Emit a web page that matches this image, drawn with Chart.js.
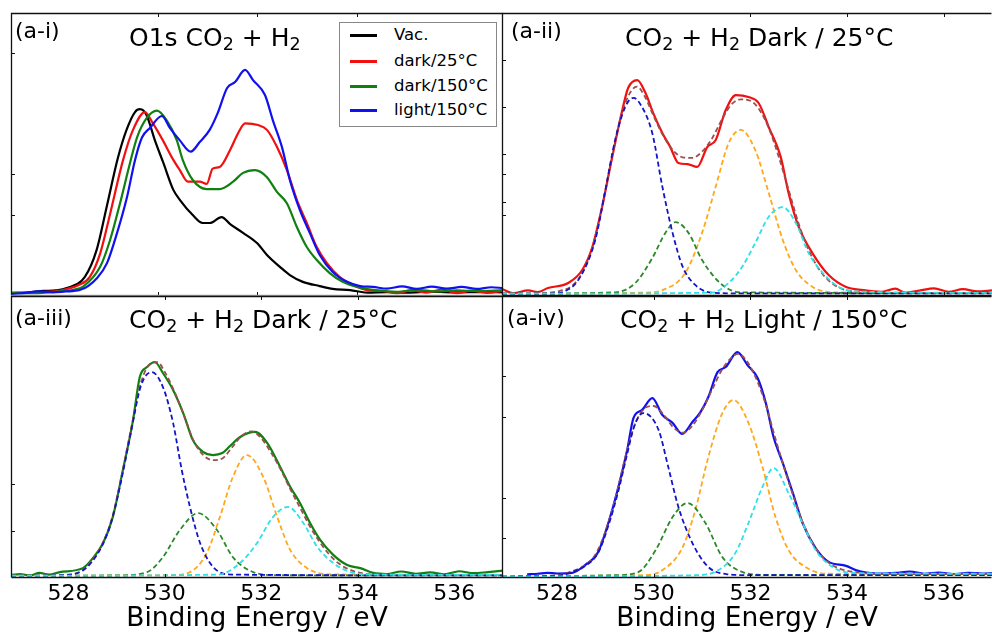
<!DOCTYPE html>
<html><head><meta charset="utf-8">
<script src="https://cdn.jsdelivr.net/npm/chart.js@4"></script>
<style>
html,body{margin:0;padding:0;background:#fff;}
#wrap{position:relative;width:992px;height:635px;overflow:hidden;font-family:'DejaVu Sans',sans-serif;}
canvas{position:absolute;left:0;top:0;}
.lbl{position:absolute;white-space:nowrap;color:#000;line-height:1;}
.lbl sub{font-size:70%;vertical-align:-0.22em;line-height:0;}
.title{font-size:25px;}
.plab{font-size:22px;}
#legend{position:absolute;left:339px;top:22px;width:156px;height:103px;border:1px solid #888;background:#fff;}
.lrow{position:absolute;left:0;width:156px;height:1px;}
.lline{position:absolute;left:10px;width:27px;height:3px;top:-1px;}
.ltxt{position:absolute;left:54px;top:-8px;font-size:16.5px;line-height:1;white-space:nowrap;}
</style></head><body>
<div id="wrap">
<canvas id="cTL" width="992" height="635"></canvas>
<canvas id="cTR" width="992" height="635"></canvas>
<canvas id="cBL" width="992" height="635"></canvas>
<canvas id="cBR" width="992" height="635"></canvas>

<div class="lbl plab" style="left:15px;top:20px">(a-i)</div>
<div class="lbl title" style="left:129px;top:25px">O1s CO<sub>2</sub> + H<sub>2</sub></div>
<div class="lbl plab" style="left:511px;top:20px">(a-ii)</div>
<div class="lbl title" style="left:625px;top:25px">CO<sub>2</sub> + H<sub>2</sub> Dark / 25°C</div>
<div class="lbl plab" style="left:15px;top:307px">(a-iii)</div>
<div class="lbl title" style="left:129px;top:307px">CO<sub>2</sub> + H<sub>2</sub> Dark / 25°C</div>
<div class="lbl plab" style="left:507px;top:307px">(a-iv)</div>
<div class="lbl title" style="left:620px;top:307px">CO<sub>2</sub> + H<sub>2</sub> Light / 150°C</div>

<div id="legend"></div>
</div>
<script>
// ---------- tick labels ----------
const bottomTicks = [528, 530, 532, 534, 536];
const tlInnerTicks = [530, 532, 534];
const trInnerTicks = [532, 534, 536];
const blInnerTicks = [530, 532, 534];
const brInnerTicks = [530, 532, 534];
const tlYTicks = [85.9, 43.1, 28.6];
const trYTicks = [83.4, 66.8, 50.2, 43.1, 33.2, 28.6];
const blYTicks = [33.3, 16.7];
const brYTicks = [71.6, 57.1, 28.4, 14.2];
const legendLabels = ['Vac.', 'dark/25°C', 'dark/150°C', 'light/150°C'];

// ---------- (a-i) O1s overview ----------
const tlVacE = [527.05,527.4,527.7,527.95,528.17,528.53,528.77,528.97,529.20,529.37,529.54,529.64,529.77,529.94,530.11,530.31,530.44,530.70,530.90,531.04,531.28,531.45,531.71,531.99,532.19,532.45,532.65,532.91,533.25,533.51,533.86,534.20,534.6,535.0,535.5,536.0,536.5,536.93];
const tlVacI = [1.0,1.3,1.8,2.0,2.8,6.7,16.3,31.4,49,58.7,65,66,64,55,47,37.5,34,28.6,25.8,25.8,27.9,25.4,22.3,18.7,14.5,10.3,7.4,5,3.5,2.5,2.1,1.2,1.4,1.2,1.5,1.3,1.4,1.3];
const tlDark25E = [527.05,527.5,528.0,528.2,528.4,528.63,528.84,529.04,529.30,529.50,529.74,529.90,530.10,530.28,530.44,530.60,530.84,530.98,531.10,531.24,531.45,531.61,531.75,532.01,532.19,532.39,532.59,532.79,532.99,533.19,533.39,533.65,533.92,534.20,534.5,534.8,535.1,535.4,535.7,536.0,536.3,536.6,536.93];
const tlDark25I = [1.0,1.3,1.8,2.6,3.8,6.7,15,29,48,58.7,65,61,55,49,44.5,40.4,40.4,39.6,45,45.6,51.6,57.5,61,60.4,58.7,52.7,44.5,34,25.8,17.3,11.7,6.7,3.9,2.1,1.8,1.0,2.1,1.2,2.3,1.0,1.9,1.1,1.8];
const tlDark150E = [527.05,527.5,528.0,528.3,528.49,528.84,529.04,529.24,529.44,529.58,529.78,529.98,530.18,530.38,530.50,530.70,530.98,531.24,531.51,531.71,531.95,532.19,532.39,532.59,532.79,532.99,533.19,533.45,533.71,534.0,534.4,534.8,535.2,535.6,536.0,536.4,536.93];
const tlDark150I = [1.2,1.0,1.6,2.2,3.2,10.3,19.8,32.8,47,56,63,65.5,62,55,48,41,37.8,37.8,40.4,43.5,44.5,42,36.8,32.8,24.4,17.3,12.7,8.1,5,3.2,2.0,1.5,2.2,1.6,2.0,1.7,2.1];
const tlLightE = [527.05,527.3,527.6,527.9,528.15,528.43,528.78,528.98,529.18,529.38,529.54,529.68,529.84,530.08,530.24,530.44,530.66,530.84,531.04,531.20,531.39,531.55,531.75,531.91,532.15,532.31,532.49,532.65,532.85,533.05,533.25,533.51,533.80,534.06,534.32,534.6,534.9,535.2,535.5,535.8,536.1,536.4,536.7,536.93];
const tlLightI = [0.7,1.0,1.6,1.3,1.6,2.1,6.4,11.7,22.3,35,48,56,59.4,63.6,59.4,55,51,54.4,58.7,64.6,73.5,75.6,79.9,76.3,71,62,52.7,41,30.4,22.3,14.5,8.5,5,3.5,3.2,2.6,3.4,2.5,3.3,2.6,3.2,2.5,3.1,2.8];

// ---------- (a-ii) dark / 25°C fit ----------
const trMeasE = [526.86,527.1,527.4,527.6,527.81,528.23,528.52,528.73,528.93,529.14,529.35,529.47,529.66,529.83,529.99,530.18,530.34,530.51,530.70,530.90,531.11,531.28,531.49,531.70,531.96,532.17,532.38,532.63,532.79,533.0,533.29,533.62,533.98,534.33,534.7,535.0,535.2,535.5,535.8,536.1,536.4,536.7,537.0];
const trMeasI = [2.5,1.0,2.0,1.4,2.8,4.6,9.2,17.3,31.4,49,65.7,73.5,76.3,71.7,64.6,57.5,52.7,47,46.6,45.6,52.7,55,65.7,71,70.3,68.2,59.7,49,36.4,24.4,15,7.4,3.2,2.1,1.5,2.6,1.2,1.9,2.7,1.5,2.4,1.6,2.0];
const trFitE = [526.86,527.5,528.0,528.3,528.5,528.7,528.9,529.1,529.3,529.5,529.65,529.8,530.0,530.2,530.4,530.6,530.8,531.0,531.2,531.4,531.6,531.8,532.0,532.2,532.4,532.6,532.8,533.0,533.2,533.4,533.6,533.8,534.0,534.5,537.0];
const trFitI = [0.8,0.9,1.6,3.5,7.5,15.5,29,46,62,71.5,74,71,63.5,56.5,51.5,49,48.8,51,55.5,62,67.5,69.5,69,65.5,58.5,48.5,37,25.5,16.5,10,5.8,3.3,2.0,1.2,1.0];
const trC1E = [526.86,527.9,528.15,528.44,528.79,529.0,529.2,529.41,529.58,529.75,529.97,530.18,530.39,530.6,530.86,531.2,532.0,537.0];
const trC1I = [0.8,0.9,1.6,5.7,19.8,37.5,55,66.8,70,67,57.5,38.5,22.3,10.3,3.9,1.2,0.9,0.9];
const trC2E = [526.86,529.2,529.62,529.97,530.24,530.45,530.72,531.0,531.42,531.8,537.0];
const trC2I = [0.8,1.3,4.6,13.4,22.3,26.1,22.3,12.7,3.9,1.3,1.0];
const trC3E = [526.86,529.8,530.18,530.65,531.0,531.28,531.55,531.8,532.1,532.38,532.67,532.94,533.29,533.7,537.0];
const trC3I = [0.8,1.2,2.1,8.1,22.3,38.5,54,58.7,51.6,36.4,19.8,9.2,3.2,1.3,1.0];
const trC4E = [526.86,531.2,531.55,531.83,532.1,532.38,532.67,532.94,533.21,533.5,533.83,534.2,537.0];
const trC4I = [0.8,1.2,4.6,10.3,18.7,28,31.4,25.8,15,8.1,3.2,1.6,1.1];

// ---------- (a-iii) fit ----------
const blMeasE = [526.81,527.0,527.2,527.4,527.6,527.82,528.30,528.51,528.72,528.92,529.13,529.34,529.48,529.63,529.79,529.96,530.17,530.38,530.58,530.79,531.0,531.19,531.35,531.56,531.87,532.12,532.39,532.60,532.80,533.01,533.22,533.49,533.78,534.05,534.32,534.6,534.9,535.2,535.5,535.8,536.1,536.4,536.7,537.01];
const blMeasI = [1.1,1.4,0.9,1.8,1.2,2.1,3.5,7.1,12.4,21.6,38.3,56,71.3,74.8,76.6,72.7,66.7,58.5,48.9,44.7,43.6,44.3,46.8,50,51.8,47.9,39.4,32.3,26.6,19.5,13.5,8.2,4.6,3.5,1.8,1.4,2.3,1.5,2.0,1.3,2.4,1.7,2.1,2.6];
const blFitE = [526.81,527.5,528.0,528.3,528.5,528.7,528.9,529.1,529.3,529.5,529.7,529.85,530.0,530.2,530.4,530.6,530.8,531.0,531.2,531.4,531.6,531.8,532.0,532.2,532.4,532.6,532.8,533.0,533.2,533.4,533.6,533.8,534.0,534.4,537.01];
const blFitI = [0.8,0.8,1.2,2.8,6.5,12,21,36,53,69,76,76.5,73,66,57.5,48.5,43.5,41.8,42.5,46.5,50.5,52,49.5,44.5,38.5,31.5,25,18.5,13,8.5,5.2,3.2,2.0,1.2,1.0];
const blC1E = [526.81,528.0,528.3,528.5,528.7,528.9,529.1,529.3,529.5,529.73,529.96,530.17,530.35,530.52,530.73,531.0,531.4,537.01];
const blC1I = [0.8,1.1,2.7,6,11.5,20.5,35,52,68,73,67.7,55,38.3,25.2,12.4,3.9,1.2,0.9];
const blC2E = [526.81,529.0,529.63,529.96,530.31,530.69,531.08,531.41,531.83,532.3,537.01];
const blC2I = [0.8,0.9,2.1,7.4,17,23,17,7.4,2.1,1.0,0.9];
const blC3E = [526.81,530.1,530.52,530.87,531.14,531.41,531.70,532.04,532.33,532.60,532.95,533.4,537.01];
const blC3I = [0.8,1.0,2.1,8.9,21.6,35.8,43.6,35.8,21.6,9.9,3.5,1.3,1.0];
const blC4E = [526.81,531.1,531.56,531.91,532.24,532.55,532.87,533.16,533.49,533.85,534.3,537.01];
const blC4I = [0.8,1.2,5.3,12.4,21.6,25.2,19.5,11,5.3,2.1,1.2,1.1];

// ---------- (a-iv) light / 150°C fit ----------
const brMeasE = [527.38,527.6,527.8,528.0,528.31,528.58,528.85,529.06,529.27,529.45,529.58,529.76,529.97,530.18,530.39,530.59,530.80,530.97,531.13,531.32,531.49,531.73,531.94,532.15,532.32,532.48,532.67,532.88,533.08,533.35,533.62,533.98,534.18,534.4,534.7,535.0,535.3,535.6,535.9,536.2,536.5,536.8,537.0];
const brMeasI = [1.3,1.5,1.8,1.6,1.8,4.6,9.2,19.5,32.3,45.4,56.7,59.6,63.8,57.8,55,51.1,55.3,58.9,64.2,73,74.8,80.1,75.5,70.9,62,50,40.8,30.1,19.5,10.6,5.7,4.3,2.8,1.9,1.6,1.8,2.3,1.5,1.9,1.4,1.8,1.6,1.7];
const brFitE = [526.86,527.5,528.0,528.3,528.6,528.8,529.0,529.2,529.4,529.6,529.8,530.0,530.2,530.4,530.6,530.8,531.0,531.2,531.4,531.6,531.75,531.9,532.1,532.3,532.5,532.7,532.9,533.1,533.3,533.5,533.7,533.9,534.2,534.6,537.0];
const brFitI = [0.5,0.6,1.0,2.3,4.8,8.5,16.5,28,42,54,60,61,58,53.5,51.5,54,59.5,66.5,73.5,78,79.5,77.5,71.5,62.5,50.5,39,28.5,19,12,7.3,4.5,3,2.0,1.4,1.4];
const brC1E = [526.86,528.0,528.3,528.6,528.85,529.06,529.27,529.45,529.6,529.78,530.1,530.3,530.51,530.8,531.13,531.5,532.0,537.0];
const brC1I = [0.5,0.8,2.0,4.5,9,18.5,31,44,54,58.5,52.5,39.4,25.2,12.4,3.9,1.4,1.0,1.0];
const brC2E = [526.86,529.2,529.68,530.04,530.39,530.7,531.07,531.42,531.84,532.3,537.0];
const brC2I = [0.5,1.0,2.1,9.9,21.6,26.6,19.5,7.4,2.1,1.1,1.0];
const brC3E = [526.86,529.8,530.18,530.6,530.86,531.13,531.42,531.65,531.96,532.25,532.52,532.79,533.14,533.6,537.0];
const brC3I = [0.5,1.0,2.8,11,24.1,42.9,58.5,63.1,55,39.4,21.6,9.9,3.9,1.5,1.4];
const brC4E = [526.86,530.9,531.34,531.69,531.96,532.25,532.48,532.79,533.08,533.35,533.7,534.1,537.0];
const brC4I = [0.5,1.0,2.8,8.9,19.5,32.3,39,30.1,19.5,9.9,3.9,1.8,1.5];

// ---------- styles ----------
const COL = {vac:'#000000', red:'#f01010', green:'#108010', blue:'#1010f0',
  fit:'#9a4f4f', c1:'#1414c8', c2:'#2a8a2a', c3:'#ffa81a', c4:'#2ee0e8'};
const FONT = "'DejaVu Sans', sans-serif";
Chart.defaults.font.family = FONT;

const pts = (xs, ys) => xs.map((x, i) => ({x: x, y: ys[i]}));
const solid = (label, xs, ys, color, order) => ({label, data: pts(xs, ys), borderColor: color,
  borderWidth: 2.2, pointRadius: 0, fill: false, cubicInterpolationMode: 'monotone', order});
const dashed = (label, xs, ys, color, order) => ({label, data: pts(xs, ys), borderColor: color,
  borderWidth: 1.8, borderDash: [5, 3], pointRadius: 0, fill: false, cubicInterpolationMode: 'monotone', order});

const framePlugin = {
  id: 'frame',
  afterDatasetsDraw(chart, args, o) {
    const {ctx, chartArea: a, scales} = chart;
    const x = scales.x, y = scales.y;
    ctx.save();
    ctx.strokeStyle = '#111';
    ctx.lineWidth = 1;
    ctx.beginPath();
    (o.xt || []).forEach(v => {
      const px = Math.round(x.getPixelForValue(v)) + 0.5;
      ctx.moveTo(px, a.top); ctx.lineTo(px, a.top + 4);
      ctx.moveTo(px, a.bottom); ctx.lineTo(px, a.bottom - 4);
    });
    (o.yt || []).forEach(v => {
      const py = Math.round(y.getPixelForValue(v)) + 0.5;
      ctx.moveTo(a.left, py); ctx.lineTo(a.left + 4, py);
    });
    ctx.stroke();
    ctx.lineWidth = 1.3;
    const L = Math.round(a.left) + 0.5, R = Math.round(a.right) - 0.5,
          T = Math.round(a.top) + 0.5, B = Math.round(a.bottom) - 0.5;
    ctx.strokeStyle = '#111';
    ctx.beginPath();
    ctx.moveTo(L, B); ctx.lineTo(L, T); ctx.lineTo(R, T);
    if (o.right !== false) ctx.lineTo(R, B);
    ctx.stroke();
    ctx.strokeStyle = o.bottomColor || '#111';
    ctx.beginPath(); ctx.moveTo(L, B); ctx.lineTo(R, B); ctx.stroke();
    ctx.restore();
  }
};
Chart.register(framePlugin);

function makeChart(id, datasets, xmin, xmax, pad, showAxis, frameOpts) {
  const xScale = {
    type: 'linear', min: xmin, max: xmax, display: showAxis,
    afterBuildTicks: s => { s.ticks = bottomTicks.map(v => ({value: v})); },
    ticks: {font: {family: FONT, size: 22}, color: '#000', padding: 3, maxRotation: 0, autoSkip: false,
      callback: v => String(v)},
    grid: {display: false, drawTicks: false},
    border: {display: false},
    title: {display: true, text: 'Binding Energy / eV', color: '#000',
      font: {family: FONT, size: 26.5}, padding: {top: 0, bottom: 0}}
  };
  if (showAxis) xScale.afterFit = s => { s.height = 57; };
  return new Chart(document.getElementById(id), {
    type: 'line',
    data: {datasets},
    options: {
      responsive: false, animation: false, devicePixelRatio: 1, events: [],
      layout: {padding: pad},
      scales: {x: xScale, y: {type: 'linear', min: 0, max: 100, display: false}},
      plugins: {legend: {display: false}, tooltip: {enabled: false}, frame: frameOpts}
    }
  });
}

makeChart('cTL', [
  solid(legendLabels[0], tlVacE, tlVacI, COL.vac, 3),
  solid(legendLabels[1], tlDark25E, tlDark25I, COL.red, 2),
  solid(legendLabels[2], tlDark150E, tlDark150I, COL.green, 1),
  solid(legendLabels[3], tlLightE, tlLightI, COL.blue, 0)
], 527.05, 536.93, {left: 11, top: 13, right: 489, bottom: 339}, false,
  {xt: tlInnerTicks, yt: tlYTicks, bottomColor: '#9a9a9a', right: false});

makeChart('cTR', [
  solid('dark/25°C', trMeasE, trMeasI, COL.red, 6),
  dashed('envelope', trFitE, trFitI, COL.fit, 5),
  dashed('c1', trC1E, trC1I, COL.c1, 1),
  dashed('c2', trC2E, trC2I, COL.c2, 2),
  dashed('c3', trC3E, trC3I, COL.c3, 3),
  dashed('c4', trC4E, trC4I, COL.c4, 0)
], 526.86, 537.0, {left: 502, top: 13, right: 0, bottom: 339}, false,
  {xt: trInnerTicks, yt: trYTicks, right: false});

makeChart('cBL', [
  solid('dark/150°C', blMeasE, blMeasI, COL.green, 6),
  dashed('envelope', blFitE, blFitI, COL.fit, 5),
  dashed('c1', blC1E, blC1I, COL.c1, 1),
  dashed('c2', blC2E, blC2I, COL.c2, 2),
  dashed('c3', blC3E, blC3I, COL.c3, 3),
  dashed('c4', blC4E, blC4I, COL.c4, 0)
], 526.81, 537.01, {left: 11, top: 296, right: 489, bottom: 0}, true,
  {xt: blInnerTicks, yt: blYTicks, right: false});

makeChart('cBR', [
  solid('light/150°C', brMeasE, brMeasI, COL.blue, 6),
  dashed('envelope', brFitE, brFitI, COL.fit, 5),
  dashed('c1', brC1E, brC1I, COL.c1, 1),
  dashed('c2', brC2E, brC2I, COL.c2, 2),
  dashed('c3', brC3E, brC3I, COL.c3, 3),
  dashed('c4', brC4E, brC4I, COL.c4, 0)
], 526.86, 537.0, {left: 502, top: 296, right: 0, bottom: 0}, true,
  {xt: brInnerTicks, yt: brYTicks, right: false});

// legend (HTML)
const legendColors = [COL.vac, COL.red, COL.green, COL.blue];
const legendRowsY = [12, 38, 63, 87];
const lg = document.getElementById('legend');
legendLabels.forEach((t, i) => {
  const row = document.createElement('div');
  row.className = 'lrow';
  row.style.top = legendRowsY[i] + 'px';
  row.innerHTML = '<div class="lline" style="background:' + legendColors[i] + '"></div><div class="ltxt">' + t + '</div>';
  lg.appendChild(row);
});
</script>
</body></html>
